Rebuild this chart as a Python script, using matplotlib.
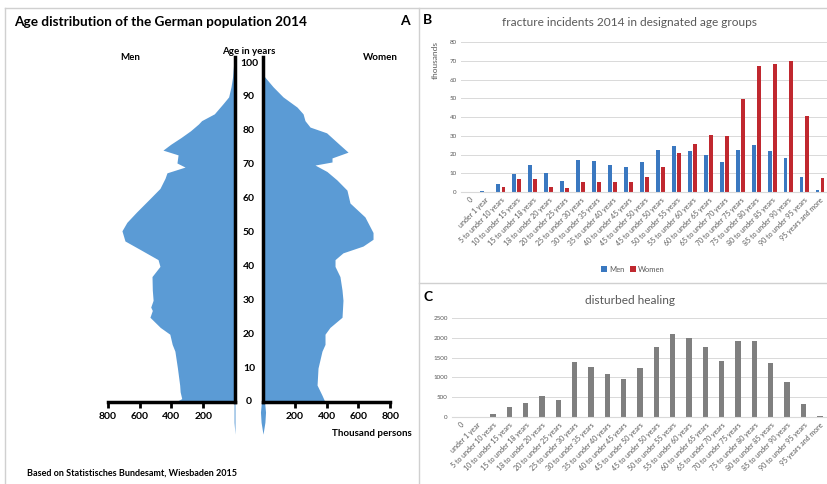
import numpy as np
import matplotlib.pyplot as plt
from matplotlib.lines import Line2D

plt.rcParams["font.family"] = ["Lato", "DejaVu Sans"]

W, H = 828, 484

# ---- panel A: population pyramid (thousand persons by age) ----
men_age = [0, 1, 3, 5, 10, 15, 17, 20, 22, 25, 27, 28, 30, 33, 37, 40, 42, 45, 47.5,
           50.5, 53, 56, 60, 63, 66, 67.6, 69.3, 70.5, 72.9, 74.3, 76, 78, 80, 82,
           83, 85, 88, 90, 93, 96, 100, 101.8]
men_pop = [375, 335, 345, 348, 362, 378, 395, 410, 470, 535, 520, 530, 515, 520, 522,
           472, 484, 597, 692, 711, 680, 620, 535, 472, 440, 428, 314, 365, 358, 453,
           405, 340, 280, 230, 210, 130, 75, 40, 25, 15, 8, 0]
women_age = [0, 2, 5, 10, 15, 17, 20, 22, 25, 30, 33, 37, 40, 42, 44, 46, 48, 50,
             54.6, 58.7, 62.5, 65.5, 68, 69.9, 70.8, 72, 73.7, 76, 79.4, 81.1, 83,
             85, 87, 90, 93, 96.5]
women_pop = [390, 371, 340, 346, 371, 390, 390, 421, 497, 503, 497, 484, 453, 453,
             503, 629, 692, 692, 641, 547, 528, 465, 402, 327, 434, 434, 535, 480,
             400, 296, 264, 252, 214, 126, 63, 0]
tail_age = [0, -3, -6, -9.5]
men_tail = [6, 6, 6, 0]
women_tail = [10, 16, 12, 0]
pop_ticks = [200, 400, 600, 800]
age_ticks = list(range(0, 101, 10))

# ---- panel B / C: age groups ----
groups = ["0", "under 1 year", "5 to under 10 years", "10 to under 15 years",
          "15 to under 18 years", "18 to under 20 years", "20 to under 25 years",
          "25 to under 30 years", "30 to under 35 years", "35 to under 40 years",
          "40 to under 45 years", "45 to under 50 years", "45 to under 50 years",
          "50 to under 55 years", "55 to under 60 years", "60 to under 65 years",
          "65 to under 70 years", "70 to under 75 years", "75 to under 80 years",
          "80 to under 85 years", "85 to under 90 years", "90 to under 95 years",
          "95 years and more"]
fract_men = [0.2, 0.7, 4.1, 9.8, 14.3, 10.3, 6.1, 17.1, 16.6, 14.4, 13.5, 15.9, 22.6,
             24.8, 21.9, 20.0, 15.9, 22.5, 25.1, 21.7, 18.0, 7.8, 1.2]
fract_women = [0, 0, 2.7, 7.0, 7.0, 2.9, 2.0, 5.5, 5.5, 5.5, 5.5, 7.8, 13.5, 20.7,
               25.8, 30.3, 29.9, 49.6, 67.0, 68.4, 70.1, 40.6, 7.7]
healing = [0, 0, 80, 250, 350, 530, 440, 1395, 1270, 1075, 970, 1245, 1760, 2090,
           2005, 1775, 1410, 1930, 1920, 1355, 885, 320, 25]

BLUE_A = "#5B9BD5"
BLUE = "#3A78C0"
RED = "#C0282F"
GREY_BAR = "#7F7F7F"
TXT = "#595959"
GRID = "#D9D9D9"

fig = plt.figure(figsize=(W / 100, H / 100), dpi=100)


def add_ax(x0, y0, x1, y1):
    return fig.add_axes([x0 / W, 1 - y1 / H, (x1 - x0) / W, (y1 - y0) / H])


# pyramid axes: age 0 at y=402px, age 100 at y=63px
px_year = (402 - 63) / 100
ylo, yhi = -10, 106
ytop = 402 - yhi * px_year
ybot = 402 - ylo * px_year

ax_m = add_ax(235 - 800 * 0.159, ytop, 235, ybot)
ax_w = add_ax(263, ytop, 263 + 800 * 0.159, ybot)

ax_m.fill_betweenx(men_age, [-v for v in men_pop], 0, color=BLUE_A, lw=0)
ax_m.fill_betweenx(tail_age, [-v for v in men_tail], 0, color=BLUE_A, lw=0)
ax_w.fill_betweenx(women_age, 0, women_pop, color=BLUE_A, lw=0)
ax_w.fill_betweenx(tail_age, [-v for v in women_tail], women_tail, color=BLUE_A,
                   lw=0, clip_on=False)

for ax, side, lim in [(ax_m, "right", (-800, 0)), (ax_w, "left", (0, 800))]:
    ax.set_xlim(*lim)
    ax.set_ylim(ylo, yhi)
    for s in ax.spines.values():
        s.set_visible(False)
    ax.spines["bottom"].set_visible(True)
    ax.spines["bottom"].set_position(("data", 0))
    ax.spines["bottom"].set_linewidth(2.5)
    ax.spines[side].set_visible(True)
    ax.spines[side].set_linewidth(2.5)
    ax.spines[side].set_bounds(0, 101.8)
    ax.set_yticks([])
    ax.tick_params(axis="x", length=4, width=2, pad=3.5, labelsize=7.5)
    ax.patch.set_alpha(0)

ax_m.spines["bottom"].set_bounds(-800, 0)
ax_w.spines["bottom"].set_bounds(0, 800)
ax_m.set_xticks([-t for t in pop_ticks], [str(t) for t in pop_ticks], fontweight="bold")
ax_w.set_xticks(pop_ticks, [str(t) for t in pop_ticks], fontweight="bold")

for a in age_ticks:
    ax_w.text(-88, a, str(a), ha="center", va="center", fontsize=7.5,
              fontweight="bold", clip_on=False)

fig.text(14 / W, 1 - 22 / H, "Age distribution of the German population 2014",
         fontsize=9.8, fontweight="bold", va="center")
fig.text(405 / W, 1 - 21 / H, "A", fontsize=10, fontweight="bold", ha="center", va="center")
fig.text(130 / W, 1 - 57 / H, "Men", fontsize=7, fontweight="bold", ha="center", va="center")
fig.text(380 / W, 1 - 57 / H, "Women", fontsize=7, fontweight="bold", ha="center", va="center")
fig.text(249 / W, 1 - 51 / H, "Age in years", fontsize=7, fontweight="bold",
         ha="center", va="center")
fig.text(412 / W, 1 - 433 / H, "Thousand persons", fontsize=7, fontweight="bold",
         ha="right", va="center")
fig.text(27 / W, 1 - 473 / H, "Based on Statistisches Bundesamt, Wiesbaden 2015",
         fontsize=6.5, fontweight="bold", va="center")

x = np.arange(len(groups))


def style_bar_axes(ax, ymax, step):
    ax.set_xlim(-0.5, len(groups) - 0.5)
    ax.set_ylim(0, ymax)
    ax.set_yticks(np.arange(0, ymax + 1, step))
    ax.grid(axis="y", color=GRID, lw=0.7)
    ax.set_axisbelow(True)
    for s in ax.spines.values():
        s.set_visible(False)
    ax.spines["bottom"].set_visible(True)
    ax.spines["bottom"].set_color(GRID)
    ax.tick_params(length=0, labelsize=4.5, labelcolor=TXT, pad=3)
    ax.set_xticks(x)
    ax.set_xticklabels(groups, rotation=45, ha="right", rotation_mode="anchor",
                       fontsize=5)


# ---- panel B ----
ax_b = add_ax(461, 42, 828, 192)
ax_b.bar(x - 0.16, fract_men, width=0.24, color=BLUE, label="Men")
ax_b.bar(x + 0.16, fract_women, width=0.24, color=RED, label="Women")
style_bar_axes(ax_b, 80, 10)
ax_b.legend(loc="center", bbox_to_anchor=(633 / W, 1 - 269 / H),
            bbox_transform=fig.transFigure, ncol=2, frameon=False, fontsize=5.5,
            handlelength=0.7, handleheight=0.7, handletextpad=0.3, columnspacing=0.8,
            labelcolor=TXT)
fig.text(630 / W, 1 - 22 / H, "fracture incidents 2014 in designated age groups",
         fontsize=8.6, color=TXT, ha="center", va="center")
fig.text(428 / W, 1 - 20 / H, "B", fontsize=10, fontweight="bold", ha="center", va="center")
fig.text(435 / W, 1 - 60 / H, "thousands", fontsize=6, color=TXT, rotation=90,
         ha="center", va="center")

# ---- panel C ----
ax_c = add_ax(452, 318, 828, 417)
ax_c.bar(x, healing, width=0.33, color=GREY_BAR)
style_bar_axes(ax_c, 2500, 500)
fig.text(630 / W, 1 - 301 / H, "disturbed healing", fontsize=8.6, color=TXT,
         ha="center", va="center")
fig.text(428 / W, 1 - 297 / H, "C", fontsize=10, fontweight="bold", ha="center", va="center")

# panel frames
frame = "#D0D0D0"
for (xa, ya, xb, yb) in [(5, 8, 828, 8), (5, 8, 5, 484), (419, 8, 419, 484),
                         (419, 283, 828, 283)]:
    fig.add_artist(Line2D([xa / W, xb / W], [1 - ya / H, 1 - yb / H], color=frame, lw=1))

fig.savefig("out.png", dpi=100)
